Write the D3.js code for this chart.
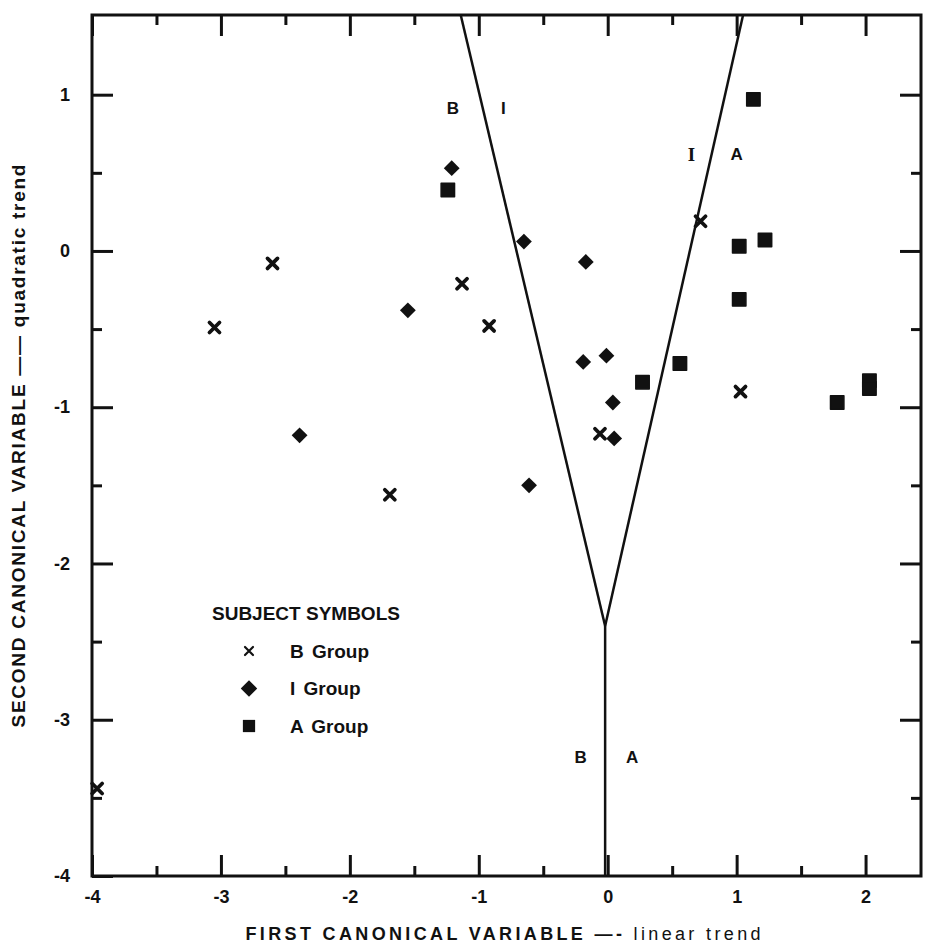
<!DOCTYPE html>
<html>
<head>
<meta charset="utf-8">
<script src="https://cdn.jsdelivr.net/npm/d3@7"></script>
<style>
  body { margin: 0; background: #fff; }
  svg text { font-family: "Liberation Sans", Arial, sans-serif; fill: #111; }
</style>
</head>
<body>
<div id="chart"></div>
<script>
// subject scores (first canonical, second canonical)
const groupB = [
  [-3.05, -0.49], [-2.60, -0.08], [-1.13, -0.21], [-0.92, -0.48], [-1.69, -1.56],
  [-0.06, -1.17], [0.72, 0.19], [1.03, -0.90], [-3.96, -3.44]
];
const groupI = [
  [-1.21, 0.53], [-0.65, 0.06], [-0.17, -0.07], [-1.55, -0.38], [-2.39, -1.18],
  [-0.19, -0.71], [-0.01, -0.67], [0.04, -0.97], [0.05, -1.20], [-0.61, -1.50]
];
const groupA = [
  [-1.24, 0.39], [1.13, 0.97], [1.02, 0.03], [1.22, 0.07], [1.02, -0.31],
  [0.56, -0.72], [0.27, -0.84], [1.78, -0.97], [2.03, -0.83], [2.03, -0.88]
];

// classification boundaries
const boundaryLeft = [[-1.14, 1.51], [-0.02, -2.4]];
const boundaryRight = [[1.05, 1.51], [-0.02, -2.4]];
const boundaryDown = [[-0.02, -2.4], [-0.02, -4]];

// region letters
const regionLabels = [
  { x: -1.20, y: 0.91, t: "B" }, { x: -0.81, y: 0.91, t: "I" },
  { x: 0.65, y: 0.62, t: "I", serif: true }, { x: 1.00, y: 0.62, t: "A" },
  { x: -0.21, y: -3.24, t: "B" }, { x: 0.19, y: -3.24, t: "A" }
];

const xMajor = [-4, -3, -2, -1, 0, 1, 2];
const xMinor = [-3.5, -2.5, -1.5, -0.5, 0.5, 1.5];
const yMajor = [-4, -3, -2, -1, 0, 1];
const yMinor = [-3.5, -2.5, -1.5, -0.5, 0.5];

const legendItems = [
  { label: "B Group", kind: "x" },
  { label: "I Group", kind: "d" },
  { label: "A Group", kind: "s" }
];

const width = 928, height = 948;
const svg = d3.select("#chart").append("svg")
  .attr("width", width)
  .attr("height", height);

const x = d3.scaleLinear().domain([-4, 2.43]).range([92, 921]);
const y = d3.scaleLinear().domain([-4, 1.51]).range([876, 15]);

const fmt = d => (d < 0 ? "-" + Math.abs(d) : "" + d);

function styleAxis(g) {
  g.select(".domain").remove();
  g.selectAll(".tick line").attr("stroke", "#111").attr("stroke-width", 3);
  g.selectAll(".tick text")
    .style("font-size", "18px")
    .style("font-weight", "bold");
}

// bottom
svg.append("g").attr("transform", `translate(0,${y(-4)})`)
  .call(d3.axisBottom(x).tickValues(xMajor).tickFormat(fmt).tickSizeInner(-21).tickSizeOuter(0).tickPadding(14))
  .call(styleAxis);
svg.append("g").attr("transform", `translate(0,${y(-4)})`)
  .call(d3.axisBottom(x).tickValues(xMinor).tickFormat("").tickSizeInner(-10).tickSizeOuter(0))
  .call(styleAxis);
// top
svg.append("g").attr("transform", `translate(0,${y(1.51)})`)
  .call(d3.axisTop(x).tickValues(xMajor).tickFormat("").tickSizeInner(-21).tickSizeOuter(0))
  .call(styleAxis);
svg.append("g").attr("transform", `translate(0,${y(1.51)})`)
  .call(d3.axisTop(x).tickValues(xMinor).tickFormat("").tickSizeInner(-10).tickSizeOuter(0))
  .call(styleAxis);
// left
svg.append("g").attr("transform", `translate(${x(-4)},0)`)
  .call(d3.axisLeft(y).tickValues(yMajor).tickFormat(fmt).tickSizeInner(-21).tickSizeOuter(0).tickPadding(22))
  .call(styleAxis);
svg.append("g").attr("transform", `translate(${x(-4)},0)`)
  .call(d3.axisLeft(y).tickValues(yMinor).tickFormat("").tickSizeInner(-10).tickSizeOuter(0))
  .call(styleAxis);
// right
svg.append("g").attr("transform", `translate(${x(2.43)},0)`)
  .call(d3.axisRight(y).tickValues(yMajor.filter(d => d > -4)).tickFormat("").tickSizeInner(-21).tickSizeOuter(0))
  .call(styleAxis);
svg.append("g").attr("transform", `translate(${x(2.43)},0)`)
  .call(d3.axisRight(y).tickValues(yMinor).tickFormat("").tickSizeInner(-10).tickSizeOuter(0))
  .call(styleAxis);

// frame
svg.append("rect")
  .attr("x", x(-4)).attr("y", y(1.51))
  .attr("width", x(2.43) - x(-4)).attr("height", y(-4) - y(1.51))
  .attr("fill", "none").attr("stroke", "#111").attr("stroke-width", 3);

// boundaries
const line = d3.line().x(d => x(d[0])).y(d => y(d[1]));
svg.append("g")
  .selectAll("path")
  .data([boundaryLeft, boundaryRight, boundaryDown])
  .join("path")
  .attr("d", line)
  .attr("fill", "none")
  .attr("stroke", "#111")
  .attr("stroke-width", 2.5);

svg.append("g")
  .selectAll("text")
  .data(regionLabels)
  .join("text")
  .attr("x", d => x(d.x))
  .attr("y", d => y(d.y))
  .attr("text-anchor", "middle")
  .attr("dominant-baseline", "central")
  .style("font-size", d => d.serif ? "19px" : "17px")
  .style("font-weight", "bold")
  .style("font-family", d => d.serif ? "'Liberation Serif', serif" : null)
  .text(d => d.t);

// markers
function drawCross(sel, size, sw) {
  const h = size / 2;
  sel.attr("d", `M${-h},${-h}L${h},${h}M${-h},${h}L${h},${-h}`)
    .attr("fill", "none")
    .attr("stroke", "#111")
    .attr("stroke-width", sw)
    .attr("stroke-linecap", "round");
}

svg.append("g")
  .selectAll("path")
  .data(groupB)
  .join("path")
  .attr("transform", d => `translate(${x(d[0])},${y(d[1])})`)
  .call(drawCross, 10, 3.8);

svg.append("g")
  .selectAll("path")
  .data(groupI)
  .join("path")
  .attr("transform", d => `translate(${x(d[0])},${y(d[1])}) rotate(45)`)
  .attr("d", d3.symbol(d3.symbolSquare, 125))
  .attr("fill", "#111");

svg.append("g")
  .selectAll("path")
  .data(groupA)
  .join("path")
  .attr("transform", d => `translate(${x(d[0])},${y(d[1])})`)
  .attr("d", d3.symbol(d3.symbolSquare, 180))
  .attr("fill", "#111")
  .attr("stroke", "#111")
  .attr("stroke-width", 1.5)
  .attr("stroke-linejoin", "round");

// legend
const legend = svg.append("g").attr("transform", "translate(212,613)");
legend.append("text")
  .attr("x", 0).attr("y", 0)
  .attr("dominant-baseline", "central")
  .style("font-size", "19px")
  .style("font-weight", "bold")
  .text("SUBJECT SYMBOLS");

const rows = legend.selectAll("g.row")
  .data(legendItems)
  .join("g")
  .attr("class", "row")
  .attr("transform", (d, i) => `translate(0,${38 + i * 37.5})`);

rows.append("path")
  .attr("transform", d => `translate(37,0)${d.kind === "d" ? " rotate(45)" : ""}`)
  .each(function(d) {
    const p = d3.select(this);
    if (d.kind === "x") p.call(drawCross, 8, 2.2);
    else if (d.kind === "d") p.attr("d", d3.symbol(d3.symbolSquare, 135)).attr("fill", "#111");
    else p.attr("d", d3.symbol(d3.symbolSquare, 150)).attr("fill", "#111");
  });

rows.append("text")
  .attr("x", 78).attr("y", 0)
  .attr("dominant-baseline", "central")
  .style("font-size", "19px")
  .style("font-weight", "bold")
  .style("word-spacing", "3px")
  .text(d => d.label);

// axis titles
const xt = svg.append("text")
  .attr("x", 503).attr("y", 940)
  .attr("text-anchor", "middle")
  .style("font-size", "18px")
  .style("font-weight", "bold")
  .attr("textLength", 515)
  .attr("lengthAdjust", "spacing");
xt.append("tspan").text("FIRST CANONICAL VARIABLE \u2014- ");
xt.append("tspan").style("font-weight", "normal").text("linear trend");

const yt = svg.append("text")
  .attr("transform", "translate(25,446) rotate(-90)")
  .attr("text-anchor", "middle")
  .style("font-size", "19px")
  .style("font-weight", "bold")
  .attr("textLength", 563)
  .attr("lengthAdjust", "spacing");
yt.append("tspan").text("SECOND CANONICAL VARIABLE \u2014\u2014 ");
yt.append("tspan").text("quadratic trend");
</script>
</body>
</html>
